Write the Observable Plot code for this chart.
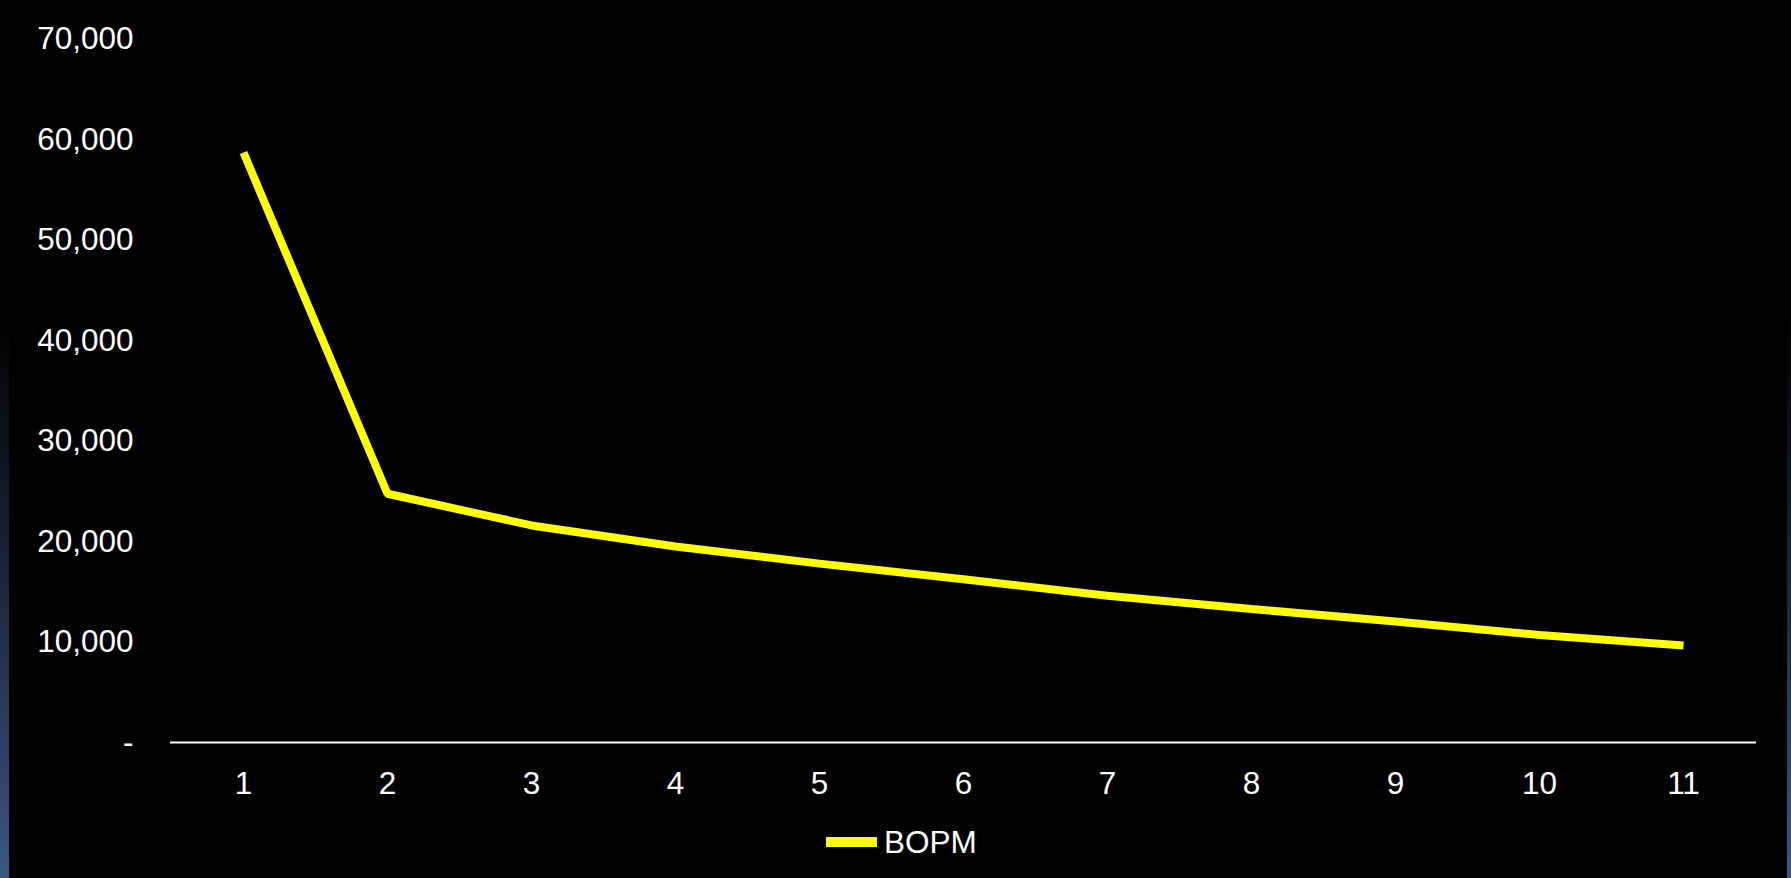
<!DOCTYPE html>
<html>
<head>
<meta charset="utf-8">
<script src="https://cdn.jsdelivr.net/npm/d3@7"></script>
<script src="https://cdn.jsdelivr.net/npm/@observablehq/plot@0.6"></script>
<style>
  html, body { margin: 0; padding: 0; background: #000; }
  #page {
    position: absolute; left: 0; top: 0; width: 1791px; height: 878px; overflow: hidden;
    background: linear-gradient(to bottom, #000 0%, #000 35%, #1a2438 65%, #3d5684 100%);
  }
  #cover { position: absolute; left: 9px; top: 0; width: 1778px; height: 878px; background: #000; }
  #chart { position: absolute; left: 0; top: 0; }
  #legend { position: absolute; left: 0; top: 826px; width: 1791px; height: 32px;
    font-family: "Liberation Sans", Arial, sans-serif; font-size: 31.5px; color: #fff; }
  #legend .sw { position: absolute; left: 826px; top: 11px; width: 51px; height: 10px; background: #ffff00; }
  #legend .lb { position: absolute; left: 884px; top: 0; line-height: 32px; }
</style>
</head>
<body>
<div id="page">
  <div id="cover"></div>
  <div id="chart"></div>
  <div id="legend"><div class="sw"></div><div class="lb">BOPM</div></div>
</div>
<script>
const periods = [1, 2, 3, 4, 5, 6, 7, 8, 9, 10, 11];
const bopm = [58700, 24750, 21600, 19500, 17800, 16250, 14600, 13280, 12050, 10700, 9650];
const yTicks = [0, 10000, 20000, 30000, 40000, 50000, 60000, 70000];
const seriesName = "BOPM";

const data = periods.map((p, i) => ({period: p, value: bopm[i]}));

const chart = Plot.plot({
  width: 1791,
  height: 800,
  marginLeft: 170,
  marginRight: 35,
  marginTop: 38.5,
  marginBottom: 58,
  style: {
    background: "none",
    color: "white",
    fontFamily: "'Liberation Sans', Arial, sans-serif",
    fontSize: "31.5px"
  },
  x: {type: "point", domain: periods, padding: 0.5, label: null},
  y: {domain: [0, 70000], label: null},
  marks: [
    Plot.axisY(yTicks, {
      tickSize: 0, tickPadding: 37, label: null,
      tickFormat: d => d === 0 ? "-" : d3.format(",")(d)
    }),
    Plot.axisX({tickSize: 0, tickPadding: 29, label: null}),
    Plot.ruleY([0], {stroke: "white", strokeWidth: 2}),
    Plot.line(data, {
      x: "period", y: "value", stroke: "#ffff00", strokeWidth: 8,
      strokeLinejoin: "miter", strokeLinecap: "butt"
    })
  ]
});
document.getElementById("chart").appendChild(chart);
</script>
</body>
</html>
